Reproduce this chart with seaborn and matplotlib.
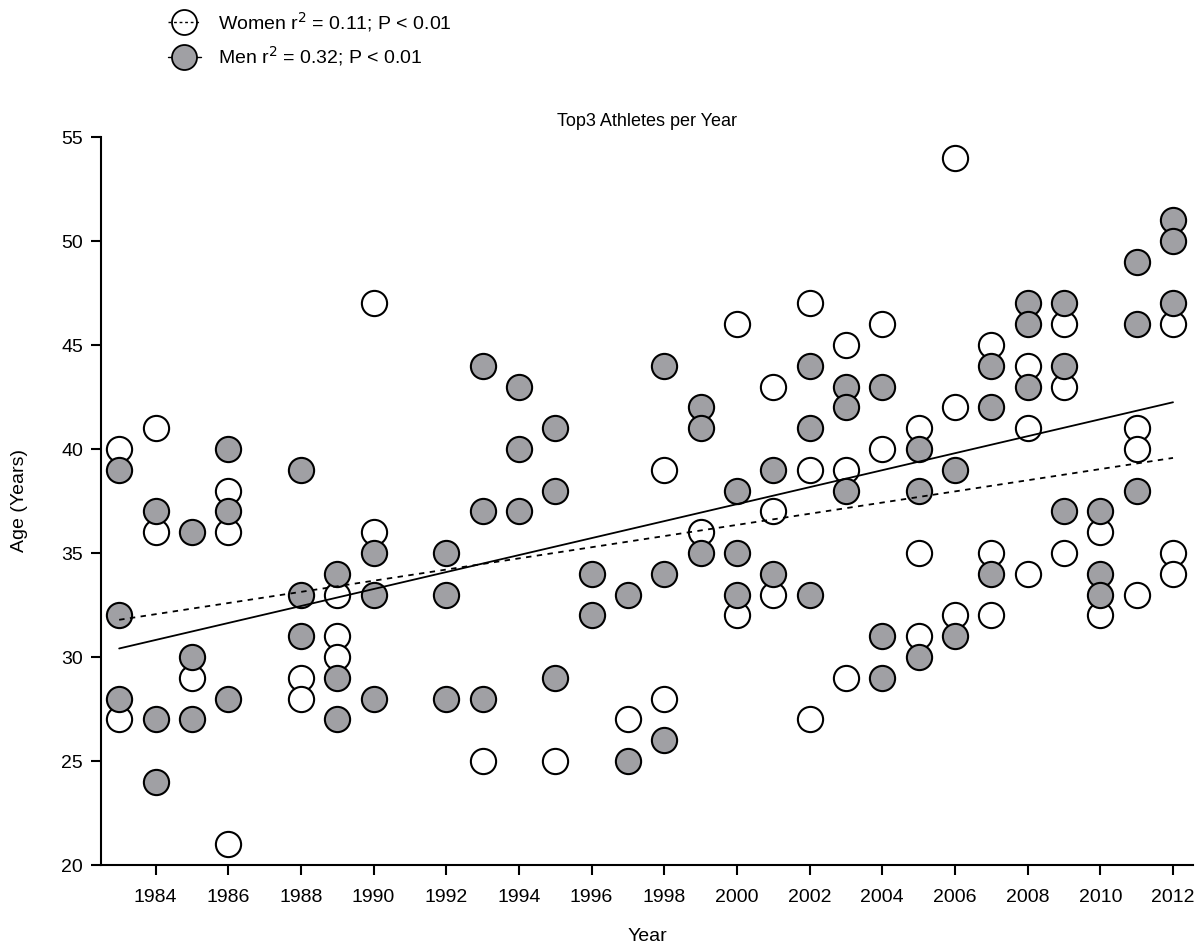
import numpy as np
import pandas as pd
import matplotlib
matplotlib.use("Agg")
import matplotlib.pyplot as plt
from matplotlib.lines import Line2D
import seaborn as sns

# ages of the top-3 athletes per year
women_years = [1983, 1983,
               1984, 1984,
               1985,
               1986, 1986, 1986,
               1988, 1988,
               1989, 1989, 1989,
               1990, 1990,
               1993,
               1995,
               1997,
               1998, 1998,
               1999,
               2000, 2000,
               2001, 2001, 2001,
               2002, 2002, 2002,
               2003, 2003, 2003,
               2004, 2004,
               2005, 2005, 2005,
               2006, 2006, 2006,
               2007, 2007, 2007,
               2008, 2008, 2008,
               2009, 2009, 2009,
               2010, 2010,
               2011, 2011, 2011,
               2012, 2012, 2012]
women_ages = [40, 27,
              41, 36,
              29,
              38, 36, 21,
              29, 28,
              33, 31, 30,
              47, 36,
              25,
              25,
              27,
              39, 28,
              36,
              46, 32,
              43, 37, 33,
              47, 39, 27,
              45, 39, 29,
              46, 40,
              41, 35, 31,
              54, 42, 32,
              45, 35, 32,
              44, 41, 34,
              46, 43, 35,
              36, 32,
              41, 40, 33,
              46, 35, 34]

men_years = [1983, 1983, 1983,
             1984, 1984, 1984,
             1985, 1985, 1985,
             1986, 1986, 1986,
             1988, 1988, 1988,
             1989, 1989, 1989,
             1990, 1990, 1990,
             1992, 1992, 1992,
             1993, 1993, 1993,
             1994, 1994, 1994,
             1995, 1995, 1995,
             1996, 1996,
             1997, 1997,
             1998, 1998, 1998,
             1999, 1999, 1999,
             2000, 2000, 2000,
             2001, 2001,
             2002, 2002, 2002,
             2003, 2003, 2003,
             2004, 2004, 2004,
             2005, 2005, 2005,
             2006, 2006,
             2007, 2007, 2007,
             2008, 2008, 2008,
             2009, 2009, 2009,
             2010, 2010, 2010,
             2011, 2011, 2011,
             2012, 2012, 2012]
men_ages = [39, 32, 28,
            37, 27, 24,
            36, 30, 27,
            40, 37, 28,
            39, 33, 31,
            34, 29, 27,
            35, 33, 28,
            35, 33, 28,
            44, 37, 28,
            43, 40, 37,
            41, 38, 29,
            34, 32,
            33, 25,
            44, 34, 26,
            42, 41, 35,
            38, 35, 33,
            39, 34,
            44, 41, 33,
            43, 42, 38,
            43, 31, 29,
            40, 38, 30,
            39, 31,
            44, 42, 34,
            47, 46, 43,
            47, 44, 37,
            37, 34, 33,
            49, 46, 38,
            51, 50, 47]

year_ticks = list(range(1984, 2013, 2))

women = pd.DataFrame({"Year": women_years, "Age": women_ages})
men = pd.DataFrame({"Year": men_years, "Age": men_ages})

sns.set_style("ticks")
plt.rcParams["font.family"] = ["Liberation Sans", "DejaVu Sans"]
plt.rcParams["text.color"] = "black"
plt.rcParams["axes.labelcolor"] = "black"
plt.rcParams["xtick.color"] = "black"
plt.rcParams["ytick.color"] = "black"

grey = "#a0a0a4"
msize = 330

fig = plt.figure(figsize=(12, 9.49), dpi=100)
ax = fig.add_axes([101 / 1200, 84 / 949, 1092 / 1200, 728 / 949])

sns.scatterplot(data=women, x="Year", y="Age", ax=ax, s=msize, color="white",
                edgecolor="black", linewidth=1.5, zorder=2)
sns.scatterplot(data=men, x="Year", y="Age", ax=ax, s=msize, color=grey,
                edgecolor="black", linewidth=1.5, zorder=3)

sns.regplot(data=women, x="Year", y="Age", ax=ax, scatter=False, ci=None,
            color="black", line_kws={"linestyle": (0, (3, 3)), "linewidth": 1.3, "zorder": 4})
sns.regplot(data=men, x="Year", y="Age", ax=ax, scatter=False, ci=None,
            color="black", line_kws={"linestyle": "-", "linewidth": 1.3, "zorder": 4})

ax.set_xlim(1982.5, 2012.55)
ax.set_ylim(20, 55)
ax.set_xticks(year_ticks)
ax.set_yticks(range(20, 56, 5))
ax.tick_params(labelsize=14, length=7, width=1.5, color="black", labelcolor="black")
ax.tick_params(axis="x", pad=10)
ax.tick_params(axis="y", pad=6)
for side in ["left", "bottom"]:
    ax.spines[side].set_linewidth(1.5)
    ax.spines[side].set_color("black")
sns.despine(ax=ax)

ax.set_title("Top3 Athletes per Year", fontsize=13, pad=8)
ax.set_xlabel("Year", fontsize=14, labelpad=16)
ax.set_ylabel("Age (Years)", fontsize=14, labelpad=24)

handles = [
    Line2D([], [], color="black", linestyle=(0, (2, 2)), linewidth=1.0, marker="o",
           markersize=18, markerfacecolor="none", markeredgecolor="black", markeredgewidth=1.3),
    Line2D([], [], color="black", linestyle="-", linewidth=1.0, marker="o",
           markersize=18, markerfacecolor=grey, markeredgecolor="black", markeredgewidth=1.3),
]
labels = ["Women r$^2$ = 0.11; P < 0.01", "Men r$^2$ = 0.32; P < 0.01"]
fig.legend(handles, labels, loc="upper left", bbox_to_anchor=(150 / 1200, 1.008),
           frameon=False, fontsize=14, handlelength=1.7, handletextpad=0.9,
           labelspacing=0.55)

fig.savefig("out.png", dpi=100)
